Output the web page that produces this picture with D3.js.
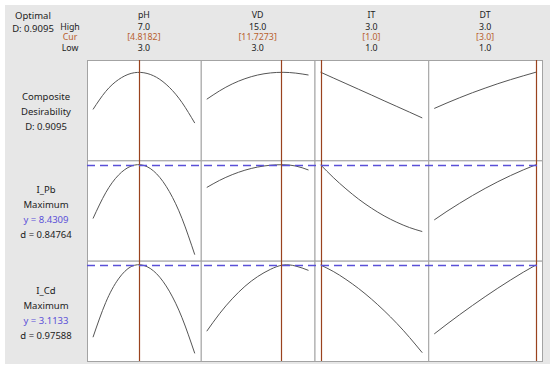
<!DOCTYPE html>
<html>
<head>
  <title>Optimization Plot</title>
  <script src="https://d3js.org/d3.v7.min.js" charset="utf-8"></script>
  <style type="text/css">
    body {
      margin: 0;
      background: white;
    }

    text {
      font-family: "Noto Sans", "DejaVu Sans", sans-serif;
      font-size: 9.5px;
      fill: #222;
    }

    text.hdr {
      font-size: 8.8px;
    }
  </style>
</head>

<body>
  <div id="chart"></div>
  <script>
    // factor settings (header)
    var factors = ["pH", "VD", "IT", "DT"];
    var factorLow = [3.0, 3.0, 1.0, 1.0];
    var factorHigh = [7.0, 15.0, 3.0, 3.0];
    var factorCur = [4.8182, 11.7273, 1.0, 3.0];
    var highLabels = ["7.0", "15.0", "3.0", "3.0"];
    var curLabels = ["[4.8182]", "[11.7273]", "[1.0]", "[3.0]"];
    var lowLabels = ["3.0", "3.0", "1.0", "1.0"];

    // x values where the curves were read
    var xPH = [3, 3.5, 4, 4.5, 5, 5.5, 6, 6.5, 7];
    var xVD = [3, 4.5, 6, 7.5, 9, 10.5, 12, 13.5, 15];
    var xIT = [1, 1.25, 1.5, 1.75, 2, 2.25, 2.5, 2.75, 3];
    var xDT = [1, 1.25, 1.5, 1.75, 2, 2.25, 2.5, 2.75, 3];

    // composite desirability
    var desPH = [0.497, 0.696, 0.827, 0.896, 0.903, 0.852, 0.742, 0.573, 0.346];
    var desVD = [0.610, 0.702, 0.779, 0.837, 0.878, 0.901, 0.908, 0.899, 0.878];
    var desIT = [0.9095, 0.846, 0.783, 0.720, 0.657, 0.593, 0.530, 0.467, 0.403];
    var desDT = [0.508, 0.569, 0.627, 0.682, 0.733, 0.782, 0.827, 0.869, 0.9095];

    // I_Pb
    var pbPH = [5.780, 7.051, 7.917, 8.364, 8.396, 7.981, 7.110, 5.780, 4.000];
    var pbVD = [7.311, 7.658, 7.941, 8.161, 8.316, 8.406, 8.431, 8.367, 8.171];
    var pbIT = [8.431, 7.805, 7.242, 6.734, 6.294, 5.912, 5.595, 5.335, 5.139];
    var pbDT = [5.712, 6.137, 6.533, 6.910, 7.264, 7.594, 7.897, 8.176, 8.431];

    // I_Cd
    var cdPH = [1.417, 2.232, 2.785, 3.075, 3.101, 2.908, 2.498, 1.874, 1.038];
    var cdVD = [1.558, 1.968, 2.319, 2.611, 2.840, 3.009, 3.112, 3.087, 2.986];
    var cdIT = [3.113, 2.962, 2.774, 2.559, 2.314, 2.041, 1.742, 1.412, 1.054];
    var cdDT = [1.495, 1.725, 1.947, 2.161, 2.369, 2.569, 2.760, 2.943, 3.113];

    // row labels
    var rowLabels = [
      ["Composite", "Desirability", "D: 0.9095"],
      ["I_Pb", "Maximum", "y = 8.4309", "d = 0.84764"],
      ["I_Cd", "Maximum", "y = 3.1133", "d = 0.97588"]
    ];
    var optimumY = [null, 8.4309, 3.1133];
    var yDomains = [[0, 1], [4.0, 8.45], [1.0, 3.12]];

    var xData = [xPH, xVD, xIT, xDT];
    var rowData = [
      [desPH, desVD, desIT, desDT],
      [pbPH, pbVD, pbIT, pbDT],
      [cdPH, cdVD, cdIT, cdDT]
    ];

    var width = 550;
    var height = 368;
    var gridLeft = 87;
    var gridRight = 542;
    var gridTop = 60;
    var gridBottom = 361;
    var inset = 6;
    var curColor = "#b8602e";
    var redLine = "#9a431e";
    var blue = "#5a50d8";

    var svg = d3.select("#chart").append("svg")
      .attr("width", width)
      .attr("height", height);

    // grey panel
    svg.append("rect")
      .attr("x", 5)
      .attr("y", 5)
      .attr("width", width - 5)
      .attr("height", 359)
      .attr("fill", "#e7e7e7");

    var colScale = d3.scaleBand().domain(d3.range(factors.length)).range([gridLeft, gridRight]);
    var rowScale = d3.scaleBand().domain(d3.range(rowLabels.length)).range([gridTop, gridBottom]);

    var xScales = factors.map(function(f, i) {
      return d3.scaleLinear()
        .domain([factorLow[i], factorHigh[i]])
        .range([colScale(i) + inset, colScale(i) + colScale.bandwidth() - inset]);
    });
    var yScales = yDomains.map(function(d, r) {
      return d3.scaleLinear()
        .domain(d)
        .range([rowScale(r) + rowScale.bandwidth() - 6, rowScale(r) + 4]);
    });

    // cells
    rowLabels.forEach(function(lbl, r) {
      factors.forEach(function(f, c) {
        svg.append("rect")
          .attr("x", colScale(c) + 0.5)
          .attr("y", rowScale(r) + 0.5)
          .attr("width", colScale.bandwidth())
          .attr("height", rowScale.bandwidth())
          .attr("fill", "white")
          .attr("stroke", "#a3a3a3")
          .attr("stroke-width", 1);
      });
    });

    // curves
    rowData.forEach(function(series, r) {
      series.forEach(function(vals, c) {
        var line = d3.line()
          .x(function(d, i) {
            return xScales[c](xData[c][i]);
          })
          .y(function(d) {
            return yScales[r](d);
          })
          .curve(d3.curveNatural);
        svg.append("path")
          .datum(vals)
          .attr("fill", "none")
          .attr("stroke", "#555")
          .attr("stroke-width", 1)
          .attr("d", line);
      });
    });

    // current settings (red vertical lines)
    factorCur.forEach(function(v, c) {
      var x = Math.round(xScales[c](v)) + 0.5;
      svg.append("line")
        .attr("x1", x).attr("x2", x)
        .attr("y1", gridTop).attr("y2", gridBottom)
        .attr("stroke", redLine)
        .attr("stroke-width", 1.2);
    });

    // optimum response (dashed)
    optimumY.forEach(function(v, r) {
      if (v == null) return;
      var y = Math.round(yScales[r](v)) + 0.5;
      svg.append("line")
        .attr("x1", gridLeft).attr("x2", gridRight)
        .attr("y1", y).attr("y2", y)
        .attr("stroke", blue)
        .attr("stroke-width", 1.3)
        .attr("stroke-dasharray", "8,5");
    });

    // header
    var mid = function(c) {
      return colScale(c) + colScale.bandwidth() / 2;
    };
    var headerRows = [
      [factors, 15, "#222"],
      [highLabels, 26.5, "#222"],
      [curLabels, 37, curColor],
      [lowLabels, 47.5, "#222"]
    ];
    headerRows.forEach(function(h) {
      svg.selectAll(null).data(h[0]).enter().append("text")
        .attr("class", "hdr")
        .attr("x", function(d, i) {
          return mid(i);
        })
        .attr("y", h[1])
        .attr("dy", "0.35em")
        .attr("text-anchor", "middle")
        .style("fill", h[2])
        .text(function(d) {
          return d;
        });
    });

    svg.append("text").attr("class", "hdr").text("High").attr("x", 70).attr("y", 26.5).attr("dy", "0.35em").attr("text-anchor", "middle");
    svg.append("text").attr("class", "hdr").text("Cur").attr("x", 70).attr("y", 37).attr("dy", "0.35em").attr("text-anchor", "middle").style("fill", curColor);
    svg.append("text").attr("class", "hdr").text("Low").attr("x", 70).attr("y", 47.5).attr("dy", "0.35em").attr("text-anchor", "middle");
    svg.append("text").text("Optimal").attr("x", 33).attr("y", 16).attr("dy", "0.35em").attr("text-anchor", "middle");
    svg.append("text").text("D: 0.9095").attr("x", 33).attr("y", 29).attr("dy", "0.35em").attr("text-anchor", "middle");

    // row labels
    rowLabels.forEach(function(lines, r) {
      var cy = rowScale(r) + rowScale.bandwidth() / 2 + 2;
      var start = cy - (lines.length - 1) * 15 / 2;
      lines.forEach(function(t, k) {
        svg.append("text")
          .attr("x", 46)
          .attr("y", start + k * 15)
          .attr("dy", "0.35em")
          .attr("text-anchor", "middle")
          .style("fill", (r > 0 && k == 2) ? blue : "#222")
          .text(t);
      });
    });
  </script>
</body>

</html>
